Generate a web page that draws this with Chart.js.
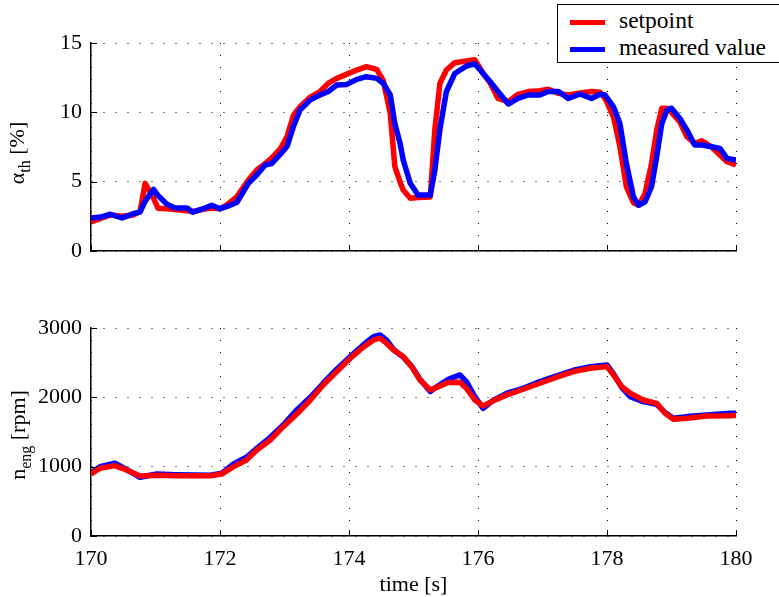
<!DOCTYPE html>
<html>
<head>
<meta charset="utf-8">
<script src="https://cdn.jsdelivr.net/npm/chart.js@4"></script>
<style>
  html, body { margin: 0; padding: 0; background: #fff; }
  #wrap { position: relative; width: 779px; height: 597px; overflow: hidden; font-family: "Liberation Serif", "Times New Roman", serif; }
  #c1 { position: absolute; left: 0; top: 0; }
  #c2 { position: absolute; left: 0; top: 290px; }
  .ytitle { position: absolute; font-size: 22px; color: #000; white-space: nowrap; transform: translate(-50%, -50%) rotate(-90deg); line-height: 1; }
  .ytitle sub { font-size: 16px; vertical-align: -6px; }
  #legend { position: absolute; left: 557px; top: 4px; width: 240px; height: 57px; border: 1.5px solid #000; background: #fff; font-size: 23.5px; color: #000; }
  .lline { position: absolute; left: 12px; width: 35px; height: 5px; }
  .ltext { position: absolute; left: 61px; white-space: nowrap; line-height: 1; }
</style>
</head>
<body>
<div id="wrap">
  <canvas id="c1" width="779" height="290"></canvas>
  <canvas id="c2" width="779" height="307"></canvas>
  <div class="ytitle" style="left:19px; top:153px;">α<sub>th</sub> [%]</div>
  <div class="ytitle" style="left:20px; top:435px;">n<sub>eng</sub> [rpm]</div>
  <div id="legend">
    <div class="lline" style="top:15px; background:#ff0000;"></div>
    <div class="ltext" style="top:4px;">setpoint</div>
    <div class="lline" style="top:42px; background:#0000ff;"></div>
    <div class="ltext" style="top:31px;">measured value</div>
  </div>
</div>
<script>
// ---- Data ----
const xTickValues = [170, 172, 174, 176, 178, 180];
const alphaTicks = [0, 5, 10, 15];
const speedTicks = [0, 1000, 2000, 3000];

const alphaTime = [170.0, 170.15, 170.3, 170.48, 170.66, 170.76, 170.84, 170.97, 171.04, 171.17,
  171.3, 171.49, 171.58, 171.74, 171.87, 172.0, 172.1, 172.26, 172.44, 172.57,
  172.7, 172.8, 172.94, 173.04, 173.14, 173.24, 173.4, 173.55, 173.68, 173.81,
  173.96, 174.12, 174.27, 174.43, 174.53, 174.64, 174.71, 174.79, 174.84, 174.95,
  175.07, 175.26, 175.33, 175.41, 175.51, 175.64, 175.82, 175.95, 176.08, 176.19,
  176.31, 176.47, 176.62, 176.78, 176.96, 177.09, 177.25, 177.4, 177.58, 177.76,
  177.89, 177.97, 178.1, 178.2, 178.3, 178.41, 178.49, 178.59, 178.69, 178.77,
  178.85, 178.93, 179.0, 179.13, 179.24, 179.36, 179.47, 179.62, 179.75, 179.86, 180.0];
const alphaSetpoint = [2.1, 2.35, 2.6, 2.5, 2.6, 2.85, 4.88, 3.8, 3.08, 3.05,
  3.0, 2.9, 2.85, 3.0, 3.1, 3.05, 3.3, 3.9, 5.12, 5.84,
  6.3, 6.7, 7.4, 8.25, 9.8, 10.4, 11.1, 11.5, 12.1, 12.45,
  12.74, 13.05, 13.29, 13.1, 12.3, 9.9, 6.1, 5.0, 4.4, 3.8,
  3.85, 3.9, 8.7, 12.1, 13.05, 13.58, 13.7, 13.8, 12.8, 12.1,
  11.0, 10.77, 11.3, 11.5, 11.56, 11.66, 11.37, 11.25, 11.4, 11.5,
  11.45, 11.0, 9.68, 7.52, 4.64, 3.48, 3.3, 4.15, 6.3, 8.7,
  10.3, 10.3, 10.0, 9.3, 8.24, 7.76, 7.95, 7.52, 6.92, 6.44, 6.2];
const alphaMeasured = [2.38, 2.45, 2.65, 2.38, 2.7, 2.8, 3.6, 4.45, 4.0, 3.4,
  3.1, 3.1, 2.8, 3.05, 3.3, 3.05, 3.2, 3.5, 4.88, 5.48,
  6.2, 6.3, 7.0, 7.55, 9.0, 10.17, 10.9, 11.25, 11.5, 11.97,
  12.0, 12.38, 12.57, 12.45, 12.1, 11.25, 9.2, 7.8, 6.56, 4.88,
  4.04, 4.04, 5.8, 8.8, 11.5, 12.8, 13.34, 13.5, 12.8, 12.2,
  11.5, 10.6, 11.0, 11.25, 11.25, 11.5, 11.5, 11.0, 11.32, 11.0,
  11.3, 11.25, 10.4, 9.2, 6.32, 3.9, 3.3, 3.55, 4.64, 6.8,
  9.2, 10.17, 10.3, 9.56, 8.72, 7.64, 7.64, 7.52, 7.4, 6.68, 6.56];

const speedTime = [170.0, 170.14, 170.37, 170.55, 170.76, 171.02, 171.3, 171.6, 171.85, 172.03,
  172.21, 172.41, 172.57, 172.78, 172.98, 173.19, 173.4, 173.6, 173.81, 174.02,
  174.22, 174.38, 174.48, 174.58, 174.69, 174.84, 174.97, 175.1, 175.26, 175.39,
  175.54, 175.72, 175.82, 175.95, 176.08, 176.24, 176.45, 176.7, 176.96, 177.22,
  177.48, 177.74, 178.0, 178.1, 178.23, 178.36, 178.56, 178.77, 178.9, 179.03,
  179.24, 179.55, 179.91, 180.0];
const speedSetpoint = [895, 977, 1015, 952, 866, 875, 870, 870, 870, 895,
  1000, 1097, 1241, 1385, 1577, 1760, 1962, 2179, 2371, 2564,
  2723, 2828, 2853, 2781, 2684, 2588, 2443, 2251, 2107, 2155,
  2213, 2217, 2131, 1962, 1876, 1953, 2035, 2117, 2203, 2290,
  2371, 2420, 2443, 2323, 2155, 2059, 1962, 1914, 1770, 1683,
  1698, 1731, 1736, 1740];
const speedMeasured = [913, 1000, 1049, 960, 847, 895, 885, 880, 878, 905,
  1039, 1135, 1265, 1424, 1601, 1818, 2001, 2203, 2405, 2587,
  2756, 2876, 2900, 2828, 2690, 2580, 2450, 2260, 2083, 2170,
  2261, 2323, 2227, 2011, 1842, 1960, 2059, 2130, 2227, 2310,
  2390, 2443, 2468, 2340, 2140, 2011, 1938, 1900, 1780, 1698,
  1722, 1746, 1770, 1772];

// ---- Helpers ----
const toPoints = (xs, ys) => xs.map((x, i) => ({ x: x, y: ys[i] }));
const FONT = '"Liberation Serif", "Times New Roman", serif';

const inwardTicks = {
  id: 'inwardTicks',
  afterDraw(chart) {
    const { ctx, chartArea: a, scales } = chart;
    const x = scales.x, y = scales.y;
    ctx.save();
    ctx.strokeStyle = '#000';
    ctx.lineWidth = 1;
    ctx.setLineDash([]);
    x.ticks.forEach(t => {
      const px = Math.round(x.getPixelForValue(t.value)) + 0.5;
      ctx.beginPath(); ctx.moveTo(px, a.bottom); ctx.lineTo(px, a.bottom - 6); ctx.stroke();
    });
    y.ticks.forEach(t => {
      const py = Math.round(y.getPixelForValue(t.value)) + 0.5;
      ctx.beginPath(); ctx.moveTo(a.left, py); ctx.lineTo(a.left + 6, py); ctx.stroke();
    });
    ctx.restore();
  }
};

function makeChart(canvasId, times, setp, meas, yMin, yMax, yTickVals, padTop, xAxisHeight, showX, setOnTop) {
  const ctx = document.getElementById(canvasId).getContext('2d');
  return new Chart(ctx, {
    type: 'line',
    data: {
      datasets: [
        { label: 'setpoint', data: toPoints(times, setp), borderColor: '#ff0000', borderWidth: 5.5,
          pointRadius: 0, tension: 0, fill: false, borderJoinStyle: 'round', order: setOnTop ? 1 : 2 },
        { label: 'measured value', data: toPoints(times, meas), borderColor: '#0000ff', borderWidth: 5.5,
          pointRadius: 0, tension: 0, fill: false, borderJoinStyle: 'round', order: setOnTop ? 2 : 1 }
      ]
    },
    options: {
      responsive: false,
      animation: false,
      events: [],
      layout: { padding: { top: padTop, right: 43, left: 0, bottom: 0 } },
      plugins: { legend: { display: false }, tooltip: { enabled: false } },
      scales: {
        x: {
          type: 'linear', min: 170, max: 180,
          afterBuildTicks: s => { s.ticks = xTickValues.map(v => ({ value: v })); },
          afterFit: s => { s.height = xAxisHeight; },
          ticks: { display: showX, color: '#000', font: { family: FONT, size: 22 }, padding: 10, maxRotation: 0,
                   callback: v => String(v) },
          grid: { color: '#000', lineWidth: 1, drawTicks: false },
          border: { display: true, color: '#000', width: 1.5, dash: [1, 11] },
          title: { display: showX, text: 'time [s]', color: '#000', font: { family: FONT, size: 22 }, padding: { top: 0, bottom: -1 } }
        },
        y: {
          type: 'linear', min: yMin, max: yMax,
          afterBuildTicks: s => { s.ticks = yTickVals.map(v => ({ value: v })); },
          afterFit: s => { s.width = 91; },
          ticks: { color: '#000', font: { family: FONT, size: 22 }, padding: 9, callback: v => String(v) },
          grid: { color: '#000', lineWidth: 1, drawTicks: false },
          border: { display: true, color: '#000', width: 1.5, dash: [1, 11] }
        }
      }
    },
    plugins: [inwardTicks]
  });
}

makeChart('c1', alphaTime, alphaSetpoint, alphaMeasured, 0, 15, alphaTicks, 43, 39, false, false);
makeChart('c2', speedTime, speedSetpoint, speedMeasured, 0, 3000, speedTicks, 38, 61, true, true);
</script>
</body>
</html>
